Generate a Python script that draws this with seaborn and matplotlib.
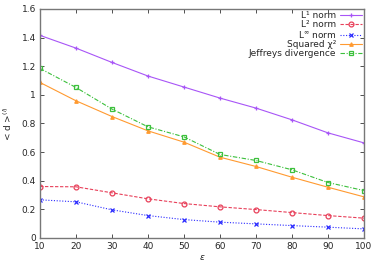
"""Mean distance vs epsilon for several divergence measures."""

import matplotlib
matplotlib.use("Agg")
import matplotlib.pyplot as plt
import pandas as pd
import seaborn as sns

EPS = [10, 20, 30, 40, 50, 60, 70, 80, 90, 100]
L1 = [1.415, 1.326, 1.226, 1.131, 1.054, 0.977, 0.907, 0.825, 0.734, 0.664]
L2 = [0.359, 0.357, 0.315, 0.273, 0.240, 0.217, 0.198, 0.177, 0.156, 0.138]
LINF = [0.266, 0.252, 0.196, 0.156, 0.128, 0.110, 0.098, 0.086, 0.075, 0.063]
CHI2 = [1.086, 0.958, 0.848, 0.748, 0.669, 0.564, 0.499, 0.424, 0.354, 0.287]
JEFFREYS = [1.184, 1.051, 0.900, 0.776, 0.706, 0.583, 0.541, 0.476, 0.387, 0.331]

LABELS = ["L\u00b9 norm", "L\u00b2 norm", r"L$^{\infty}$ norm",
          "Squared \u03c7\u00b2", "Jeffreys divergence"]
COLORS = ["#a855f7", "#e8405a", "#2a2aff", "#ff9a30", "#3cc03c"]
MARKERS = ["+", "o", "x", "^", "s"]
DASHES = [(None, None), (3, 1.5), (1, 1.5), (None, None), (4, 1.5, 1, 1.5)]


def main() -> None:
    sns.set_style("ticks")
    plt.rcParams["font.family"] = ["DejaVu Sans"]
    plt.rcParams["font.size"] = 6.5

    df = pd.DataFrame({"eps": EPS})
    for label, values in zip(LABELS, [L1, L2, LINF, CHI2, JEFFREYS]):
        df[label] = values
    long = df.melt(id_vars="eps", var_name="measure", value_name="d")

    fig = plt.figure(figsize=(3.74, 2.62), dpi=100)
    ax = fig.add_axes([0.107, 0.092, 0.866, 0.874])

    for label, color, marker, dash in zip(LABELS, COLORS, MARKERS, DASHES):
        sub = long[long["measure"] == label]
        filled = marker in ("+", "x", "^")
        line, = ax.plot(sub["eps"], sub["d"], color=color, lw=0.8,
                        marker=marker, ms=3.5 if marker != "^" else 2.5,
                        mew=0.9,
                        mfc=color if filled else "none", mec=color,
                        label=label)
        if dash[0] is not None:
            line.set_dashes(dash)

    ax.set_xlim(10, 100)
    ax.set_ylim(0, 1.6)
    ax.set_xticks(range(10, 101, 10))
    ax.set_yticks([0, 0.2, 0.4, 0.6, 0.8, 1.0, 1.2, 1.4, 1.6])
    ax.set_yticklabels(["0", "0.2", "0.4", "0.6", "0.8", "1", "1.2", "1.4", "1.6"])
    ax.tick_params(direction="in", length=3, width=0.6, top=True, right=True,
                   labelsize=6.5, pad=3, color="#333333")
    for spine in ax.spines.values():
        spine.set_visible(True)
        spine.set_linewidth(1.0)
        spine.set_color("#777777")

    ax.set_xlabel(r"$\epsilon$", fontsize=6.5)
    ax.set_ylabel(r"< d >$^{(l)}$", fontsize=6.5)
    ax.xaxis.set_label_coords(0.5, -0.065)
    ax.yaxis.set_label_coords(-0.08, 0.5)

    ax.legend(loc="upper right", markerfirst=False, frameon=False,
              fontsize=6.5, handlelength=2.4, handletextpad=0.5,
              labelspacing=0.0, borderaxespad=0.1, borderpad=0.1)

    fig.savefig("out.png", dpi=100)
    plt.close(fig)


if __name__ == "__main__":
    main()
